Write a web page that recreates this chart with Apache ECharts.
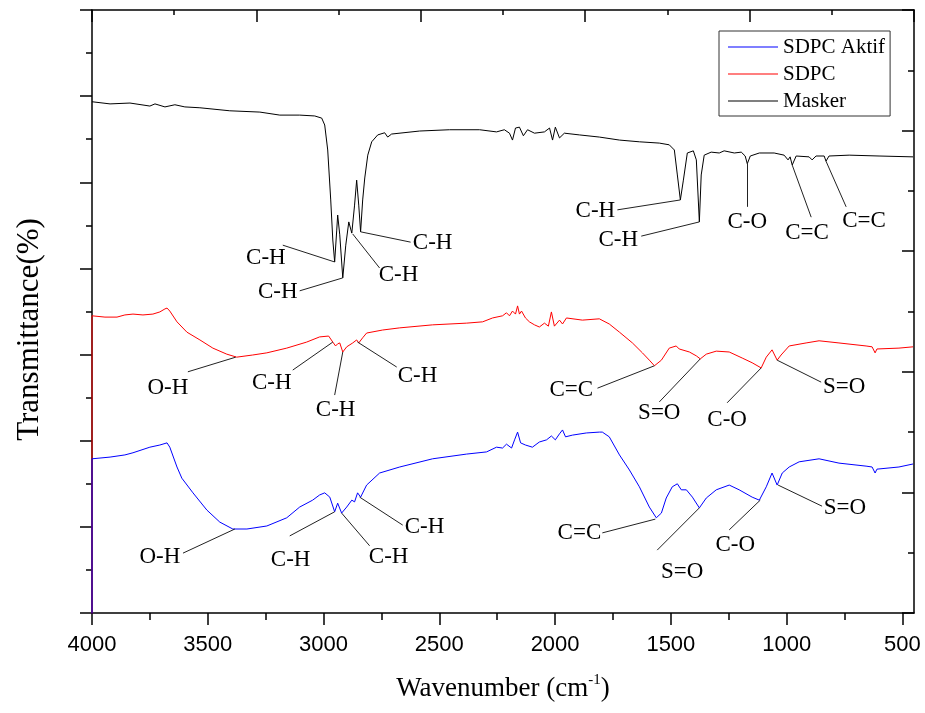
<!DOCTYPE html>
<html><head><meta charset="utf-8">
<script src="https://cdn.jsdelivr.net/npm/echarts@6/dist/echarts.min.js"></script>
<style>html,body{margin:0;padding:0;background:#fff}#c{width:925px;height:713px}</style>
</head><body><div id="c"></div><script>
// ---- data (wavenumber in cm-1, transmittance in arbitrary offset %) ----
const maskerWn = [4000,3922,3836,3750,3728,3685,3642,3599,3534,3405,3275,3189,3103,3038,3008,2995,2982,2969,2960,2952,2943,2939,2930,2917,2904,2891,2878,2866,2857,2848,2840,2831,2822,2809,2792,2766,2736,2723,2706,2585,2456,2326,2253,2219,2197,2184,2171,2154,2137,2119,2089,2046,2024,2011,1999,1981,1960,1895,1809,1722,1636,1550,1507,1485,1472,1459,1446,1429,1403,1390,1377,1369,1356,1326,1291,1270,1226,1196,1179,1170,1157,1118,1054,1011,994,985,976,959,903,890,873,838,830,817,730,601,454];
const maskerT = [118.7,118.2,118.4,117.7,118.2,117.5,118.0,117.5,117.3,116.6,116.3,115.6,115.6,115.4,114.9,113.3,107.5,95.9,86.6,81.5,88.9,92.4,87.8,77.8,85.4,90.8,88.2,94.7,100.5,94.7,88.5,95.9,101.0,106.3,109.4,111.0,111.5,110.5,111.2,111.9,112.2,112.2,111.7,112.2,111.4,109.8,112.6,112.8,110.8,112.2,111.4,111.7,112.6,109.8,112.8,110.3,111.4,111.0,110.5,109.8,109.4,109.1,108.7,107.5,101.7,95.9,100.5,106.8,107.3,105.2,90.8,101.7,106.3,107.0,106.8,107.3,106.8,107.0,106.1,104.3,106.1,106.8,106.8,106.3,105.2,105.9,104.0,106.1,105.9,105.2,106.1,106.1,104.9,106.1,106.3,106.1,105.9];

const sdpcWn = [4000,4000,3944,3892,3858,3823,3780,3737,3707,3685,3676,3664,3633,3590,3534,3478,3418,3375,3306,3245,3159,3073,3017,2978,2960,2948,2939,2930,2917,2900,2874,2857,2848,2831,2814,2745,2671,2529,2382,2313,2270,2227,2210,2197,2184,2171,2162,2154,2145,2128,2111,2089,2068,2046,2029,2016,2003,1981,1968,1951,1882,1809,1766,1722,1666,1623,1593,1571,1541,1507,1477,1464,1420,1390,1373,1347,1304,1248,1192,1149,1110,1088,1063,1041,1024,989,916,860,774,657,631,618,610,515,454];
const sdpcT = [-5,69.0,68.7,68.7,69.2,69.4,69.2,69.4,69.9,70.6,70.8,70.1,67.6,65.2,63.4,61.5,60.1,59.4,59.9,60.4,61.5,62.9,64.1,64.3,62.9,62.0,62.5,62.7,60.6,61.8,62.7,63.4,62.7,63.9,65.0,65.7,66.2,66.9,67.3,67.6,68.5,69.0,69.7,69.0,70.1,69.4,71.3,69.4,70.1,68.5,67.6,66.9,66.4,67.3,66.6,69.9,66.6,68.0,67.1,68.5,68.0,68.3,67.1,65.2,62.7,60.4,58.7,57.4,58.7,61.5,62.0,61.3,60.6,59.7,59.0,60.1,60.8,60.6,59.2,58.1,56.9,59.4,61.1,58.7,59.9,62.0,62.7,63.2,62.7,62.0,61.8,60.4,61.3,61.5,61.8];

const aktifWn = [4000,4000,3922,3858,3823,3750,3707,3676,3664,3633,3612,3564,3504,3448,3392,3331,3245,3159,3103,3047,3017,2995,2973,2952,2939,2922,2900,2878,2866,2853,2840,2814,2758,2671,2529,2382,2296,2253,2227,2210,2188,2175,2162,2149,2128,2098,2068,2037,2016,1999,1981,1968,1955,1925,1865,1809,1796,1766,1722,1679,1636,1593,1563,1541,1520,1494,1472,1455,1433,1407,1377,1347,1304,1248,1205,1149,1118,1088,1063,1041,1019,989,946,860,774,657,631,618,610,515,454];
const aktifT = [-5,35.8,36.2,36.7,37.2,38.5,39.0,39.5,38.5,33.9,31.3,27.9,23.9,21.1,19.5,19.5,20.2,22.1,24.6,26.2,27.4,27.9,26.9,23.5,25.5,23.2,24.6,26.2,25.8,27.9,26.9,29.7,32.5,33.9,35.8,36.9,37.4,38.5,38.3,39.2,38.3,40.2,42.0,39.5,39.0,38.5,39.7,40.2,41.1,40.2,41.6,42.5,40.9,41.3,41.8,42.0,42.0,40.9,36.7,33.2,29.3,24.6,22.1,23.2,26.7,29.3,30.0,28.6,28.6,26.9,24.4,26.7,28.6,29.7,28.6,26.9,26.2,29.3,32.5,29.7,32.5,33.9,35.1,35.8,34.8,34.1,33.9,32.5,33.4,33.9,34.6];

// tick values of the bottom axis
const majorTicks = [4000,3500,3000,2500,2000,1500,1000,500];
const minorTicks = [3750,3250,2750,2250,1750,1250,750];

// peak assignments: label anchor, leader line start and end (data units)
const maskerNotes = [
  {t:'C-H', at:[3249,82.4], from:[3176,85.4], to:[2952,81.5]},
  {t:'C-H', at:[3198,74.5], from:[3103,74.8], to:[2917,77.8]},
  {t:'C-H', at:[2676,78.5], from:[2758,80.1], to:[2874,88.0]},
  {t:'C-H', at:[2529,85.9], from:[2624,86.1], to:[2840,88.5]},
  {t:'C-H', at:[1826,93.3], from:[1731,93.6], to:[1459,95.9]},
  {t:'C-H', at:[1727,86.6], from:[1628,87.5], to:[1377,90.8]},
  {t:'C-O', at:[1170,90.8], from:[1170,94.3], to:[1170,104.3]},
  {t:'C=C', at:[912,88.2],  from:[894,91.9],  to:[976,104.0]},
  {t:'C=C', at:[666,91.0],  from:[743,94.3],  to:[830,104.9]}
];
const sdpcNotes = [
  {t:'O-H', at:[3672,52.2], from:[3586,56.0], to:[3379,59.4]},
  {t:'C-H', at:[3224,53.4], from:[3133,56.4], to:[2960,62.9]},
  {t:'C-H', at:[2948,47.1], from:[2952,50.6], to:[2917,60.6]},
  {t:'C-H', at:[2594,55.0], from:[2684,57.1], to:[2853,62.9]},
  {t:'C=C', at:[1930,51.8], from:[1817,52.2], to:[1571,57.4]},
  {t:'S=O', at:[1550,46.4], from:[1550,49.0], to:[1373,59.0]},
  {t:'C-O', at:[1257,44.8], from:[1257,48.8], to:[1110,56.9]},
  {t:'S=O', at:[752,52.5],  from:[851,53.6],  to:[1041,58.7]}
];
const aktifNotes = [
  {t:'O-H', at:[3707,13.0], from:[3607,13.9], to:[3383,19.5]},
  {t:'C-H', at:[3142,12.3], from:[3146,17.9], to:[2952,23.5]},
  {t:'C-H', at:[2719,13.0], from:[2801,15.6], to:[2922,23.2]},
  {t:'C-H', at:[2564,20.0], from:[2658,20.4], to:[2844,26.9]},
  {t:'C=C', at:[1895,18.6], from:[1796,18.6], to:[1567,21.8]},
  {t:'S=O', at:[1451,9.5],  from:[1559,14.6], to:[1377,24.4]},
  {t:'C-O', at:[1222,15.8], from:[1248,19.3], to:[1114,26.2]},
  {t:'S=O', at:[748,24.4],  from:[847,24.8],  to:[1037,29.7]}
];

// ---- chart ----
const SERIF = 'Liberation Serif, Times New Roman, serif';
const SANS = 'Liberation Sans, Arial, sans-serif';
const AX = {color:'#000', width:1.5};

function makeSeries(name, color, wn, t, notes) {
  return {
    name: name, type: 'line', xAxisIndex: 0, yAxisIndex: 0,
    data: wn.map((w, i) => [w, t[i]]),
    showSymbol: false, symbol: 'none', clip: true, silent: true,
    lineStyle: {color: color, width: 1}, itemStyle: {color: color},
    emphasis: {disabled: true},
    markLine: {
      silent: true, animation: false, symbol: ['none', 'none'],
      label: {show: false}, emphasis: {disabled: true},
      lineStyle: {color: '#222', width: 1, type: 'solid'},
      data: notes.map(n => [{coord: n.from}, {coord: n.to}])
    },
    markPoint: {
      silent: true, animation: false, symbol: 'rect', symbolSize: 1,
      itemStyle: {color: 'rgba(0,0,0,0)'},
      label: {show: true, position: 'inside', color: '#000', fontFamily: SERIF, fontSize: 23},
      data: notes.map(n => ({coord: n.at, value: n.t, label: {formatter: n.t}}))
    }
  };
}

const chart = echarts.init(document.getElementById('c'), null, {renderer: 'canvas'});
chart.setOption({
  animation: false,
  backgroundColor: '#fff',
  grid: {left: 92, right: 11, top: 10, bottom: 100},
  legend: {
    data: ['SDPC Aktif', 'SDPC', 'Masker'],
    orient: 'vertical', left: 719, top: 31,
    icon: 'rect', itemWidth: 50, itemHeight: 1, itemGap: 3,
    padding: [4, 5, 3, 9],
    borderColor: '#333', borderWidth: 1, backgroundColor: '#fff',
    textStyle: {fontFamily: SERIF, fontSize: 21, color: '#000', lineHeight: 24},
    selectedMode: false
  },
  xAxis: [
    {
      type: 'value', position: 'bottom', min: 450, max: 4000, inverse: true,
      axisLine: {show: true, lineStyle: AX},
      axisTick: {show: true, customValues: majorTicks, length: 12, lineStyle: AX},
      axisLabel: {show: true, customValues: majorTicks, formatter: v => String(v),
                  fontFamily: SANS, fontSize: 22, color: '#000', margin: 21},
      splitLine: {show: false},
      name: '{a|Wavenumber (cm}{s|-1}{a|)}',
      nameLocation: 'middle', nameGap: 60,
      nameTextStyle: {
        rich: {
          a: {fontFamily: SERIF, fontSize: 27, color: '#000', lineHeight: 32},
          s: {fontFamily: SERIF, fontSize: 15, color: '#000', verticalAlign: 'top'}
        }
      }
    },
    {
      type: 'value', position: 'bottom', min: 450, max: 4000, inverse: true,
      axisLine: {show: false},
      axisTick: {show: true, customValues: minorTicks, length: 7, lineStyle: AX},
      axisLabel: {show: false}, splitLine: {show: false}
    },
    {
      type: 'value', position: 'top', min: 0, max: 5, interval: 1,
      axisLine: {show: true, lineStyle: AX},
      axisTick: {show: true, inside: true, length: 12, lineStyle: AX},
      minorTick: {show: true, splitNumber: 2, length: 5, lineStyle: AX},
      axisLabel: {show: false}, splitLine: {show: false}, minorSplitLine: {show: false}
    }
  ],
  yAxis: [
    {
      type: 'value', position: 'left', min: 0, max: 140, interval: 20,
      axisLine: {show: true, lineStyle: AX},
      axisTick: {show: true, length: 12, lineStyle: AX},
      minorTick: {show: true, splitNumber: 2, length: 6, lineStyle: AX},
      axisLabel: {show: false}, splitLine: {show: false}, minorSplitLine: {show: false},
      name: 'Transmittance(%)', nameLocation: 'middle', nameRotate: 90, nameGap: 47,
      nameTextStyle: {fontFamily: SERIF, fontSize: 31, color: '#000', padding: [0, 36, 0, 0]}
    },
    {
      type: 'value', position: 'right', min: 0, max: 5, interval: 1,
      axisLine: {show: true, lineStyle: AX},
      axisTick: {show: true, inside: true, length: 12, lineStyle: AX},
      minorTick: {show: true, splitNumber: 2, length: 6, lineStyle: AX},
      axisLabel: {show: false}, splitLine: {show: false}, minorSplitLine: {show: false}
    }
  ],
  series: [
    makeSeries('Masker', '#000000', maskerWn, maskerT, maskerNotes),
    makeSeries('SDPC', '#ff0000', sdpcWn, sdpcT, sdpcNotes),
    makeSeries('SDPC Aktif', '#0000ff', aktifWn, aktifT, aktifNotes)
  ]
});
</script></body></html>
